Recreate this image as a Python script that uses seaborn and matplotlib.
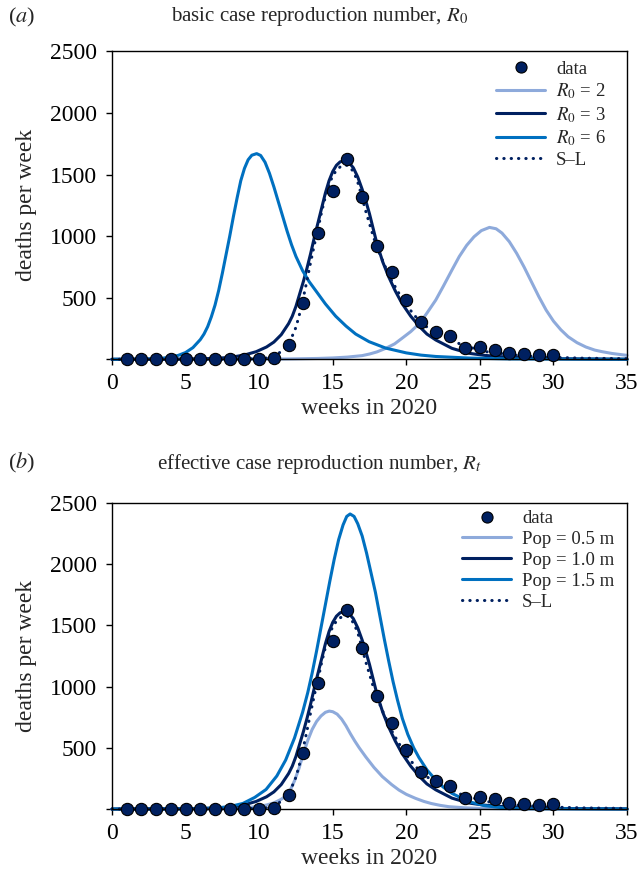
import matplotlib
matplotlib.use("Agg")
import matplotlib.pyplot as plt
import seaborn as sns
from matplotlib.lines import Line2D

# ----- data -----
weeks = list(range(1, 31))
deaths = [0, 0, 0, 0, 0, 0, 0, 0, 0, 0, 10, 114, 460, 1026, 1369, 1629, 1318,
          923, 706, 479, 300, 225, 192, 92, 100, 79, 52, 44, 32, 38]

# model curves, panel (a)
wk_r2 = [0, 10, 12, 14, 15, 16, 17, 17.5, 18, 18.6, 19.2, 19.7, 20.3, 20.9,
         21.4, 22.0, 22.5, 23.1, 23.6, 24.1, 24.6, 25.1, 25.65, 26.1, 26.5,
         27.0, 27.5, 28.0, 28.5, 29.0, 29.5, 30.0, 30.5, 31.0, 31.6, 32.2,
         32.8, 33.3, 34.0, 34.8, 35]
dth_r2 = [0, 1, 3, 7, 11, 18, 30, 43, 60, 89, 125, 170, 225, 292,
          375, 481, 590, 725, 835, 925, 995, 1045, 1071, 1060, 1025,
          955, 860, 750, 630, 510, 400, 310, 240, 183, 135, 100,
          75, 62, 47, 35, 32]

wk_r3 = [0, 4, 6, 7, 8, 9, 9.8, 10.5, 11, 11.5, 12.0, 12.25, 12.5, 12.75,
         13.0, 13.25, 13.5, 13.75, 14.0, 14.25, 14.5, 14.75, 15.0, 15.25, 15.5,
         15.8, 16.1, 16.4, 16.7, 17.0, 17.25, 17.5, 17.75, 18.0, 18.4, 18.8,
         19.25, 19.7, 20.3, 20.9, 21.4, 22.0, 23.1, 24.25, 25.3, 26.5, 28.8,
         30, 35]
dth_r3 = [0, 1, 4, 8, 15, 35, 62, 100, 140, 200, 290, 350, 430, 530,
          630, 740, 860, 990, 1110, 1230, 1350, 1450, 1525, 1575, 1603,
          1612, 1598, 1555, 1480, 1380, 1285, 1180, 1060, 940, 790, 670,
          555, 455, 350, 265, 205, 157, 89, 49, 32, 21, 8,
          5, 1]

wk_r6 = [0, 2, 3, 3.5, 4, 4.5, 5, 5.5, 6, 6.25, 6.5, 6.75, 7, 7.25, 7.5,
         7.75, 8, 8.25, 8.5, 8.75, 9, 9.25, 9.5, 9.83, 10.1, 10.4, 10.7, 11,
         11.3, 11.6, 11.9, 12.2, 12.5, 12.95, 13.4, 13.86, 14.5, 15.2, 15.9,
         16.56, 17.47, 18.6, 20, 21, 22, 24.3, 27, 35]
dth_r6 = [0, 1, 5, 10, 18, 32, 55, 95, 160, 205, 265, 345, 440, 560, 700,
          850, 1000, 1160, 1310, 1450, 1550, 1620, 1657, 1670, 1655, 1600,
          1510, 1400, 1280, 1160, 1040, 930, 835, 720, 630, 555, 450, 350,
          270, 205, 143, 91, 52, 34, 23, 10, 3, 0]

wk_sl = [0, 8, 10, 10.7, 11.3, 11.8, 12.2, 12.5, 12.75, 13.0, 13.25, 13.5,
         13.75, 14.0, 14.25, 14.5, 14.75, 15.0, 15.25, 15.5, 15.75, 16.0, 16.25,
         16.5, 16.75, 17.0, 17.25, 17.5, 17.75, 18.0, 18.5, 19.0, 19.5, 20.0,
         20.6, 21.3, 22.0, 22.7, 23.8, 25.4, 27.7, 29.9, 32, 35]
dth_sl = [0, 1, 5, 12, 45, 100, 175, 260, 370, 500, 640, 790,
          930, 1060, 1200, 1320, 1420, 1490, 1535, 1562, 1575, 1575, 1550,
          1500, 1420, 1310, 1200, 1100, 1000, 910, 770, 640, 535, 440,
          350, 270, 220, 180, 115, 62, 30, 16, 9, 5]

# model curves, panel (b)
wk_p05 = [0, 6, 8, 9, 10, 10.5, 11, 11.5, 11.8, 12.1, 12.4, 12.7, 13.0, 13.3,
          13.6, 13.9, 14.2, 14.5, 14.76, 15.0, 15.3, 15.6, 15.9, 16.2, 16.5,
          16.8, 17.25, 17.8, 18.37, 19.0, 19.5, 20.0, 20.63, 21.2, 21.7, 22.3,
          22.9, 24, 25, 27, 35]
dth_p05 = [0, 1, 4, 10, 22, 33, 50, 80, 105, 150, 230, 330, 450, 560,
           650, 715, 760, 790, 800, 795, 775, 735, 680, 615, 555,
           500, 425, 340, 265, 200, 155, 120, 87, 62, 45, 30,
           19, 10, 5, 2, 0]

wk_p10 = wk_r3
dth_p10 = dth_r3

wk_p15 = [0, 5, 7, 8, 8.9, 9.7, 10.47, 11.2, 11.8, 12.4, 12.95, 13.3, 13.6,
          13.9, 14.2, 14.5, 14.8, 15.1, 15.4, 15.7, 15.95, 16.18, 16.45, 16.7,
          17.0, 17.3, 17.6, 17.9, 18.2, 18.5, 18.8, 19.1, 19.4, 19.73, 20.1,
          20.5, 20.86, 21.4, 22.0, 22.5, 23.1, 24.25, 25.3, 26.5, 28, 35]
dth_p15 = [0, 2, 8, 20, 46, 95, 160, 270, 400, 580, 790, 950, 1110,
           1290, 1480, 1670, 1860, 2040, 2200, 2320, 2390, 2410, 2390, 2330,
           2230, 2090, 1930, 1770, 1580, 1390, 1210, 1040, 890, 740, 610,
           500, 420, 320, 237, 180, 128, 60, 28, 11, 3, 0]

wk_slb = wk_sl
dth_slb = dth_sl

LIGHT = "#8eaadb"
NAVY = "#002060"
BLUE = "#0070c0"

sns.set_style("ticks")
plt.rcParams["font.family"] = ["Liberation Serif", "DejaVu Serif"]
plt.rcParams["mathtext.fontset"] = "stix"

fig = plt.figure(figsize=(6.39, 8.77), dpi=100)
ax_a = fig.add_axes([0.1753, 0.5903, 0.806, 0.3511])
ax_b = fig.add_axes([0.1753, 0.0775, 0.806, 0.349])

lw = 2.2
dot_style = (0, (0.1, 2.3))


def draw_panel(ax, curves, labels, legend_x, legend_y):
    cols = [LIGHT, NAVY, BLUE]
    for (wk, dth), col in zip(curves[:3], cols):
        sns.lineplot(x=wk, y=dth, ax=ax, color=col, lw=lw, clip_on=False)
    wk, dth = curves[3]
    sns.lineplot(x=wk, y=dth, ax=ax, color=NAVY, lw=lw, linestyle=dot_style,
                 dash_capstyle="round", clip_on=False)
    sns.scatterplot(x=weeks, y=deaths, ax=ax, s=78, color=NAVY,
                    edgecolor="black", linewidth=0.8, zorder=5, clip_on=False)

    ax.set_xlim(0, 35)
    ax.set_ylim(0, 2500)
    ax.set_xticks(range(0, 36, 5))
    ax.set_yticks(range(0, 2501, 500))
    ax.set_yticklabels([""] + [str(v) for v in range(500, 2501, 500)])
    ax.tick_params(axis="both", direction="out", length=4, width=1,
                   labelsize=17, colors="black")
    ax.tick_params(axis="x", pad=6)
    ax.tick_params(axis="y", pad=7)
    for sp in ax.spines.values():
        sp.set_visible(True)
        sp.set_linewidth(1.0)
        sp.set_color("black")
    ax.set_xlabel("weeks in 2020", fontsize=17, labelpad=3)
    ax.set_ylabel("deaths per week", fontsize=17, labelpad=9)

    handles = [Line2D([], [], marker="o", ls="none", markersize=8,
                      markerfacecolor=NAVY, markeredgecolor="black",
                      markeredgewidth=0.8)]
    handles += [Line2D([], [], color=c, lw=lw) for c in cols]
    handles.append(Line2D([], [], color=NAVY, lw=lw, ls=dot_style,
                          dash_capstyle="round"))
    ax.legend(handles, labels, loc="upper left",
              bbox_to_anchor=(legend_x, legend_y), frameon=False, fontsize=13.5,
              handlelength=2.6, handletextpad=0.6, labelspacing=0.2,
              borderpad=0, borderaxespad=0)


draw_panel(ax_a,
           [(wk_r2, dth_r2), (wk_r3, dth_r3), (wk_r6, dth_r6), (wk_sl, dth_sl)],
           ["data", "$R_0$ = 2", "$R_0$ = 3", "$R_0$ = 6", "S\u2013L"],
           0.746, 0.97)
draw_panel(ax_b,
           [(wk_p05, dth_p05), (wk_p10, dth_p10), (wk_p15, dth_p15),
            (wk_slb, dth_slb)],
           ["data", "Pop = 0.5 m", "Pop = 1.0 m", "Pop = 1.5 m", "S\u2013L"],
           0.68, 0.977)

fig.text(0.5, 0.981, "basic case reproduction number, $R_0$", ha="center",
         va="center", fontsize=15)
fig.text(0.5, 0.471, "effective case reproduction number, $R_t$", ha="center",
         va="center", fontsize=15)
fig.text(0.012, 0.980, "($\\mathit{a}$)", ha="left", va="center", fontsize=16)
fig.text(0.012, 0.472, "($\\mathit{b}$)", ha="left", va="center", fontsize=16)

fig.savefig("out.png", dpi=100)
